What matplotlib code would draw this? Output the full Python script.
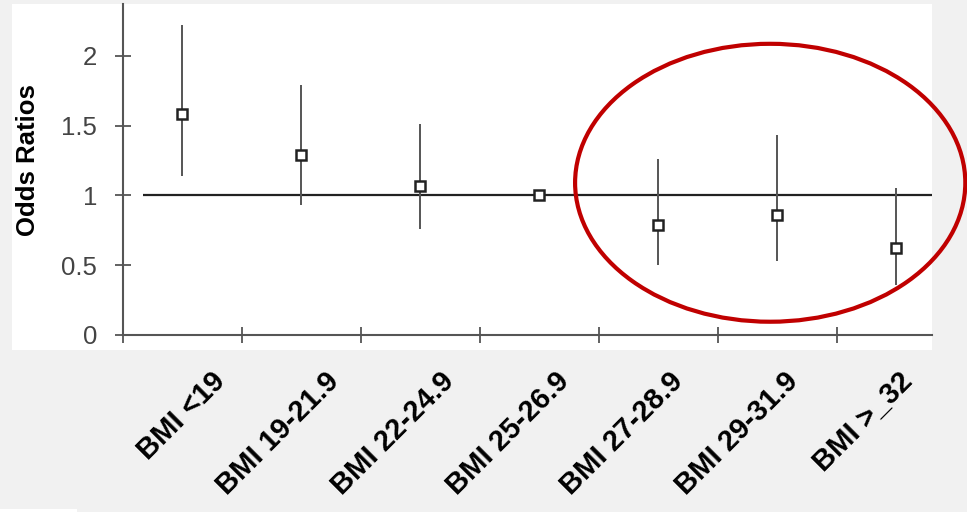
import matplotlib.pyplot as plt
from matplotlib.patches import Ellipse, Rectangle
from matplotlib.ticker import FixedLocator, FuncFormatter

plt.rcParams['font.family'] = ['Liberation Sans', 'DejaVu Sans']

groups = ["BMI <19", "BMI 19-21.9", "BMI 22-24.9", "BMI 25-26.9",
          "BMI 27-28.9", "BMI 29-31.9", "BMI >_32"]
odds = [1.58, 1.29, 1.07, 1.00, 0.79, 0.86, 0.62]
ci_low = [1.14, 0.93, 0.76, 1.00, 0.50, 0.53, 0.36]
ci_high = [2.22, 1.79, 1.51, 1.00, 1.26, 1.43, 1.05]
yticks = [0, 0.5, 1, 1.5, 2]

fig = plt.figure(figsize=(9.67, 5.12), dpi=100, facecolor="#f1f1f1")

# white panel behind the plot
fig.patches.append(Rectangle((12 / 967, 162 / 512), 920 / 967, 346 / 512,
                             transform=fig.transFigure, facecolor="white",
                             edgecolor="none", zorder=-1))
fig.patches.append(Rectangle((0, 0), 77 / 967, 3 / 512,
                             transform=fig.transFigure, facecolor="white",
                             edgecolor="none", zorder=-1))

ax = fig.add_axes([123 / 967, 177 / 512, 809 / 967, 331 / 512])
ax.set_facecolor("none")
ax.set_zorder(2)

xs = [i + 0.5 for i in range(len(groups))]

ax.hlines(1, 0.17, 6.8, color="#222222", lw=1.6, zorder=2)
ax.vlines(xs, ci_low, ci_high, color="#555555", lw=1.4, zorder=3)
ax.plot(xs, odds, "s", mfc="white", mec="#222222", ms=7.5, mew=1.8, zorder=4)

ax.set_xlim(0, 6.8)
ax.set_ylim(0, 2.37)

for s in ["top", "right"]:
    ax.spines[s].set_visible(False)
for s in ["left", "bottom"]:
    ax.spines[s].set_color("#555555")
    ax.spines[s].set_linewidth(1.5)

ax.xaxis.set_major_locator(FixedLocator(range(0, 7)))
ax.xaxis.set_major_formatter(FuncFormatter(lambda v, p: ""))
ax.set_yticks(yticks)
ax.yaxis.set_major_formatter(FuncFormatter(lambda v, p: f"{v:g}"))
ax.tick_params(axis="both", direction="inout", length=11, width=1.3, color="#555555")
ax.tick_params(axis="y", labelsize=18.5, labelcolor="#444444", pad=13)

# rotated category labels
for i, (x, g) in enumerate(zip(xs, groups)):
    dx = (28 - 4.3 * i) / 1.389
    ax.annotate(g, xy=(x, 0), xycoords=("data", "axes fraction"),
                xytext=(dx, -23), textcoords="offset points",
                rotation=45, rotation_mode="anchor", ha="right", va="top",
                fontsize=21, fontweight="bold", color="black")

ax.set_ylabel("Odds Ratios", fontsize=18.5, fontweight="bold")
ax.yaxis.set_label_coords(-0.102, 0.53)

# highlight ellipse
ax.add_patch(Ellipse((5.44, 1.09), 3.28, 1.99, fill=False, edgecolor="#c00000",
                     lw=3, clip_on=False, zorder=5))

fig.savefig("out.png", dpi=100, facecolor=fig.get_facecolor())
